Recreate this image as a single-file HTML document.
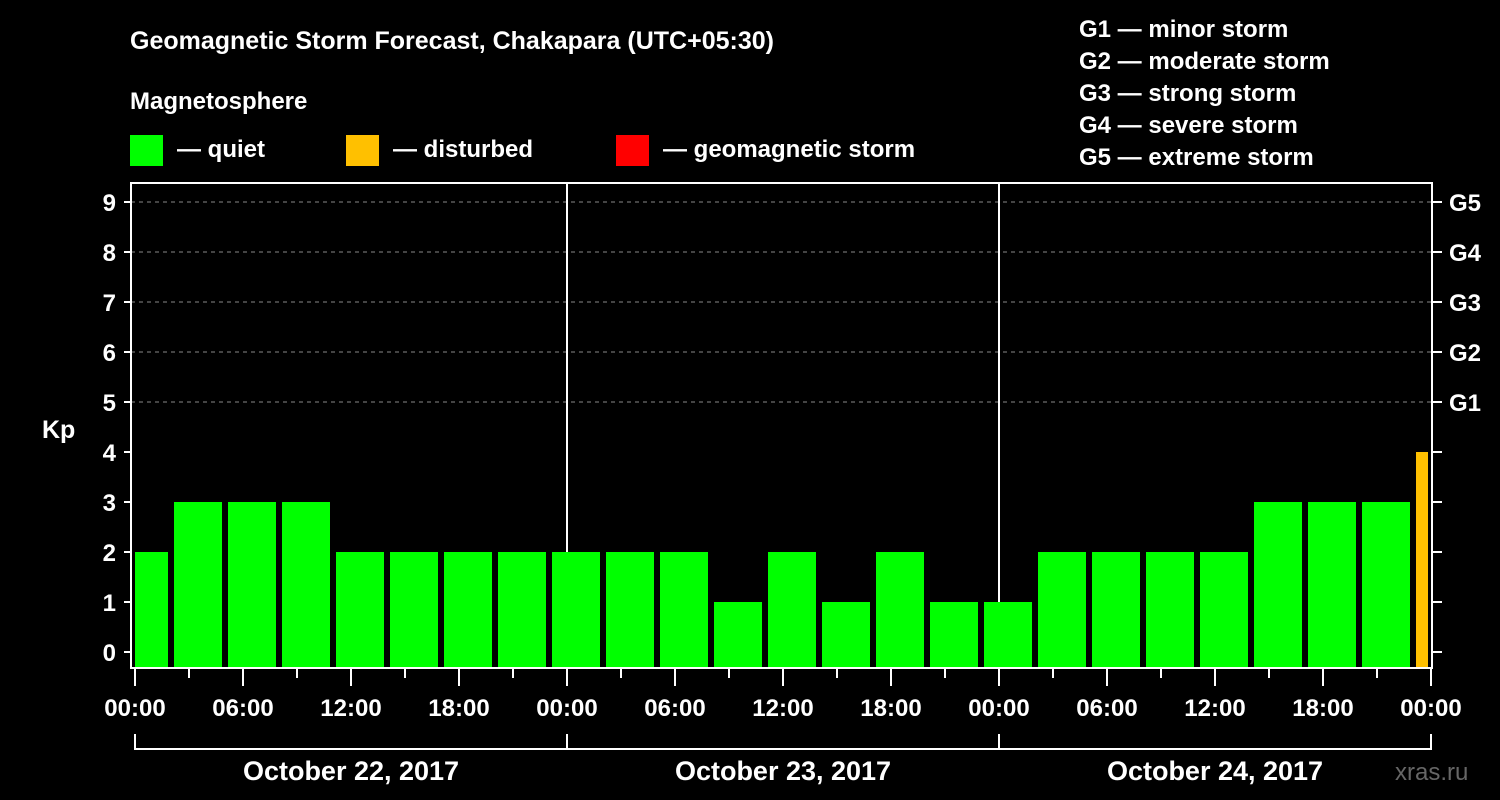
<!DOCTYPE html>
<html><head><meta charset="utf-8"><style>
body{margin:0;background:#000;}
svg{display:block;font-family:"Liberation Sans",Arial,sans-serif;font-weight:bold;}
</style></head><body>
<svg width="1500" height="800" viewBox="0 0 1500 800" xmlns="http://www.w3.org/2000/svg">
<rect width="1500" height="800" fill="#000"/>
<text x="130" y="49" fill="#fff" font-size="25">Geomagnetic Storm Forecast, Chakapara (UTC+05:30)</text>
<text x="130" y="109" fill="#fff" font-size="24">Magnetosphere</text>
<g><rect x="130" y="135" width="33" height="31" fill="#00ff00"/><text x="177" y="157" fill="#fff" font-size="24">— quiet</text></g>
<g><rect x="346" y="135" width="33" height="31" fill="#ffc000"/><text x="393" y="157" fill="#fff" font-size="24">— disturbed</text></g>
<g><rect x="616" y="135" width="33" height="31" fill="#ff0000"/><text x="663" y="157" fill="#fff" font-size="24">— geomagnetic storm</text></g>
<g fill="#fff" font-size="24">
<text x="1079" y="37">G1 — minor storm</text>
<text x="1079" y="69">G2 — moderate storm</text>
<text x="1079" y="101">G3 — strong storm</text>
<text x="1079" y="133">G4 — severe storm</text>
<text x="1079" y="165">G5 — extreme storm</text>
</g>
<text x="42" y="438" fill="#fff" font-size="25">Kp</text>
<text x="1395" y="780" fill="#666" font-size="24" font-weight="normal">xras.ru</text>
<g id="grid"></g>
<g id="bars"></g>
<g id="axes"></g>
</svg>
<script>
const kpValues=[2,3,3,3,2,2,2,2,2,2,2,1,2,1,2,1,1,2,2,2,2,3,3,3,4];
const dayLabels=["October 22, 2017","October 23, 2017","October 24, 2017"];
const hourLabels=["00:00","06:00","12:00","18:00"];
const gLabels=["G1","G2","G3","G4","G5"];
const NS="http://www.w3.org/2000/svg";
const L=131,R=1432,T=183,B=668,X0=135,PXH=18;
const xS=h=>X0+h*PXH;
const yS=k=>652-50*k;
function mk(t,a,p){const e=document.createElementNS(NS,t);for(const k in a)e.setAttribute(k,a[k]);p.appendChild(e);return e;}
const grid=document.getElementById('grid'),bars=document.getElementById('bars'),axes=document.getElementById('axes');
for(let k=5;k<=9;k++){const l=mk('line',{x1:L,x2:R,y1:yS(k),y2:yS(k),stroke:'#888','stroke-dasharray':'4,4','stroke-width':1},grid);

}
for(let d=1;d<3;d++){const l=mk('line',{x1:xS(24*d),x2:xS(24*d),y1:T,y2:B,stroke:'#fff','stroke-width':2},grid);

}
kpValues.forEach((v,i)=>{let x1=xS(-1+3*i)+3,x2=x1+48;x1=Math.max(x1,X0);x2=Math.min(x2,1428);
const c=v>=5?'#ff0000':(v>=4?'#ffc000':'#00ff00');
const r=mk('rect',{x:x1,y:yS(v),width:x2-x1,height:B-yS(v),fill:c},bars);

});
mk('rect',{x:L,y:T,width:R-L,height:B-T,fill:'none',stroke:'#fff','stroke-width':2},axes);
for(let k=0;k<=9;k++){mk('line',{x1:124,x2:L,y1:yS(k),y2:yS(k),stroke:'#fff','stroke-width':2},axes);
mk('line',{x1:R,x2:1442,y1:yS(k),y2:yS(k),stroke:'#fff','stroke-width':2},axes);
const t=mk('text',{x:116,y:yS(k)+9,fill:'#fff','font-size':24,'text-anchor':'end'},axes);t.textContent=k;

}
gLabels.forEach((g,i)=>{const t=mk('text',{x:1449,y:yS(5+i)+9,fill:'#fff','font-size':24},axes);t.textContent=g;

});
for(let h=0;h<=72;h+=3){const maj=h%6===0;mk('line',{x1:xS(h),x2:xS(h),y1:B,y2:maj?686:678,stroke:'#fff','stroke-width':2},axes);
if(maj){const t=mk('text',{x:xS(h),y:716,fill:'#fff','font-size':24,'text-anchor':'middle'},axes);t.textContent=hourLabels[(h/6)%4];

}}
dayLabels.forEach((d,i)=>{const a=xS(24*i),b=xS(24*(i+1));
mk('path',{d:`M${a} 734V749H${b}V734`,fill:'none',stroke:'#fff','stroke-width':2},axes);
const t=mk('text',{x:(a+b)/2,y:780,fill:'#fff','font-size':27,'text-anchor':'middle'},axes);t.textContent=d;

});
</script>
</body></html>
